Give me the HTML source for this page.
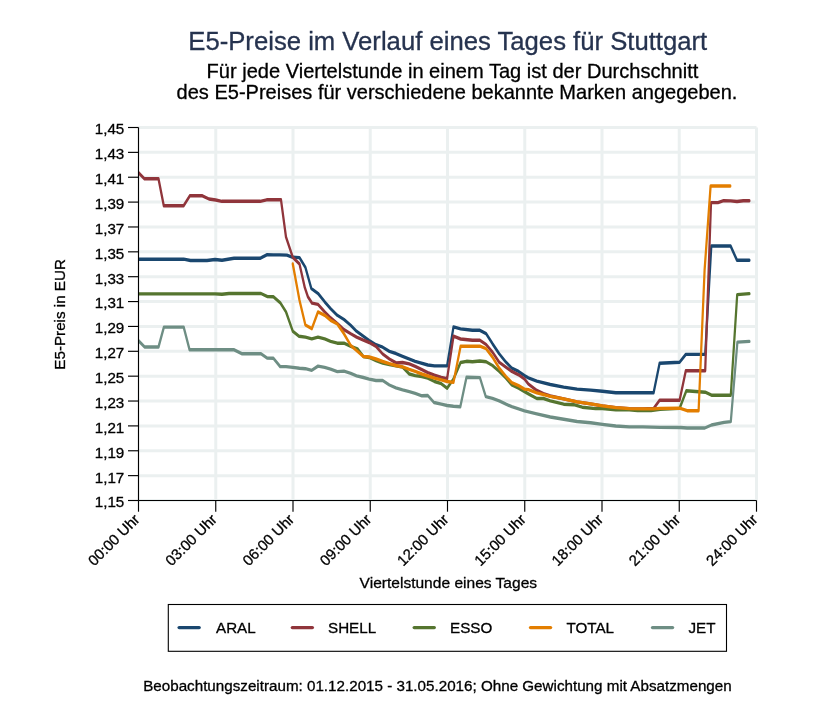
<!DOCTYPE html>
<html lang="de"><head><meta charset="utf-8"><title>E5-Preise im Verlauf eines Tages für Stuttgart</title>
<style>html,body{margin:0;padding:0;background:#fff}svg{display:block;will-change:transform}text{font-family:"Liberation Sans",Arial,Helvetica,sans-serif;fill:#000;stroke:#000;stroke-width:.3px}.s{fill:none;stroke-linejoin:round;stroke-linecap:round}</style></head><body>
<svg width="840" height="714" viewBox="0 0 840 714">
<rect width="840" height="714" fill="#ffffff"/>
<g stroke="#ebf0f0" stroke-width="3"><line x1="138.5" y1="127.50" x2="756.5" y2="127.50"/><line x1="138.5" y1="152.37" x2="756.5" y2="152.37"/><line x1="138.5" y1="177.23" x2="756.5" y2="177.23"/><line x1="138.5" y1="202.10" x2="756.5" y2="202.10"/><line x1="138.5" y1="226.97" x2="756.5" y2="226.97"/><line x1="138.5" y1="251.83" x2="756.5" y2="251.83"/><line x1="138.5" y1="276.70" x2="756.5" y2="276.70"/><line x1="138.5" y1="301.57" x2="756.5" y2="301.57"/><line x1="138.5" y1="326.43" x2="756.5" y2="326.43"/><line x1="138.5" y1="351.30" x2="756.5" y2="351.30"/><line x1="138.5" y1="376.17" x2="756.5" y2="376.17"/><line x1="138.5" y1="401.03" x2="756.5" y2="401.03"/><line x1="138.5" y1="425.90" x2="756.5" y2="425.90"/><line x1="138.5" y1="450.77" x2="756.5" y2="450.77"/><line x1="138.5" y1="475.63" x2="756.5" y2="475.63"/><line x1="138.5" y1="500.50" x2="756.5" y2="500.50"/><line x1="215.75" y1="127.5" x2="215.75" y2="500.5"/><line x1="293.00" y1="127.5" x2="293.00" y2="500.5"/><line x1="370.25" y1="127.5" x2="370.25" y2="500.5"/><line x1="447.50" y1="127.5" x2="447.50" y2="500.5"/><line x1="524.75" y1="127.5" x2="524.75" y2="500.5"/><line x1="602.00" y1="127.5" x2="602.00" y2="500.5"/><line x1="679.25" y1="127.5" x2="679.25" y2="500.5"/><line x1="756.50" y1="127.5" x2="756.50" y2="500.5"/></g>
<defs><clipPath id="pc"><rect x="138.0" y="100" width="640" height="420"/></clipPath></defs><g clip-path="url(#pc)">
<polyline class="s" transform="scale(1,1.5)" stroke="#1a476f" stroke-width="2.25" points="138.5,172.80 183.7,172.80 190.5,173.67 207.0,173.67 215.0,173.00 222.0,173.47 234.0,172.20 260.0,172.20 266.7,169.87 273.4,169.93 279.8,169.93 286.9,170.07 292.8,171.53 299.5,171.73 305.4,178.27 311.3,192.27 318.0,195.60 324.7,201.20 330.6,205.73 337.3,210.20 344.0,213.00 350.8,216.93 356.6,220.87 363.4,224.20 369.2,227.00 376.0,229.80 382.7,231.47 389.4,234.27 396.0,235.67 402.6,237.53 415.2,240.87 427.8,243.33 434.5,243.93 447.1,243.93 453.5,217.93 460.6,219.27 472.4,220.20 479.9,220.20 486.1,222.40 492.5,229.13 499.2,235.87 506.0,241.47 511.8,245.40 518.6,247.60 524.5,250.40 528.4,251.87 536.8,254.13 550.3,256.33 563.7,258.07 577.1,259.40 590.6,260.07 602.4,260.87 615.8,261.87 653.6,261.87 659.6,242.20 679.6,241.53 685.8,236.27 705.2,236.27 711.3,164.00 730.6,164.00 737.0,173.53 749.4,173.53"/>
<polyline class="s" transform="scale(1,1.5)" stroke="#90353b" stroke-width="2.25" points="138.5,115.07 144.5,119.20 158.5,119.20 163.8,137.13 183.7,137.13 189.8,130.53 202.4,130.53 209.0,132.67 215.7,133.33 221.8,134.20 260.2,134.20 266.7,133.20 281.0,133.20 286.0,158.07 292.8,171.53 299.5,176.00 304.8,191.73 307.9,197.87 312.1,202.13 318.0,202.93 324.7,207.93 330.6,211.87 337.3,215.60 344.0,219.73 350.8,222.53 356.6,224.73 363.4,226.80 369.2,228.33 376.0,230.93 382.7,236.00 389.4,239.33 396.1,241.93 402.6,241.67 409.3,242.60 415.2,244.27 421.9,246.47 427.8,248.40 434.5,250.07 441.3,251.53 447.1,252.47 453.5,224.07 460.6,226.00 472.4,226.87 479.9,226.87 486.1,229.67 492.5,234.73 499.2,241.47 506.0,244.80 511.8,247.60 518.6,249.87 524.5,252.67 528.4,256.00 536.8,260.27 543.5,262.40 550.3,264.00 563.7,265.87 577.1,267.87 590.6,269.27 602.4,270.60 615.8,271.73 629.2,272.40 642.7,272.60 653.6,272.27 659.6,266.87 679.6,266.87 685.8,247.13 705.2,247.13 711.0,135.07 718.0,135.07 723.6,133.73 730.7,133.93 737.0,134.33 743.3,133.80 749.4,133.87"/>
<polyline class="s" transform="scale(1,1.5)" stroke="#55752f" stroke-width="2.25" points="138.5,195.93 215.0,195.93 222.0,196.20 229.0,195.67 261.0,195.67 267.5,197.73 273.4,197.87 280.2,201.80 286.0,207.93 292.8,220.87 299.0,224.20 305.4,224.73 311.8,225.87 318.0,224.73 324.7,225.87 330.6,227.53 337.3,228.80 344.0,228.80 350.8,230.93 357.5,232.60 363.4,237.67 369.2,238.33 376.0,240.47 382.7,242.13 389.4,243.00 395.9,243.93 402.6,244.80 409.3,249.33 415.2,250.40 421.9,251.00 427.8,252.13 434.5,254.33 441.3,255.80 447.1,258.80 453.5,252.67 460.6,241.67 466.5,240.87 472.4,241.13 479.9,240.67 486.1,241.20 492.5,243.67 499.2,247.60 506.0,252.13 511.8,256.60 518.6,258.80 524.5,261.07 528.4,262.53 536.8,265.67 543.5,265.67 550.3,267.20 563.7,269.47 573.8,269.80 582.2,271.47 595.6,272.40 602.4,272.40 615.8,273.13 629.2,273.13 637.6,273.73 651.1,273.73 660.0,272.80 679.6,272.27 686.3,260.53 705.2,261.47 711.5,263.47 730.8,263.47 737.2,196.40 749.4,195.73"/>
<polyline class="s" transform="scale(1,1.5)" stroke="#e37e00" stroke-width="2.25" points="292.8,176.00 299.5,200.13 305.4,216.67 311.8,219.13 318.0,207.93 324.7,210.20 330.6,213.53 337.3,216.00 344.0,222.53 350.8,230.33 356.6,233.73 363.4,237.67 369.2,238.00 376.0,239.33 382.7,241.00 389.4,242.47 395.9,243.67 402.6,244.60 409.3,246.27 415.2,247.60 421.9,249.33 427.8,250.67 434.5,252.13 441.3,253.20 447.1,254.33 453.5,254.93 460.6,230.80 479.9,230.80 486.1,232.47 492.5,238.07 499.2,245.40 506.0,251.00 511.8,255.13 518.6,257.13 524.5,259.40 528.4,259.73 536.8,261.93 550.3,264.20 563.7,265.87 577.1,267.87 590.6,269.27 602.4,270.60 615.8,271.73 629.2,272.40 642.7,272.60 653.6,272.60 660.0,272.27 679.6,272.13 687.1,273.80 698.6,273.80 704.6,180.00 710.6,124.00 730.3,124.00"/>
<polyline class="s" transform="scale(1,1.5)" stroke="#6e8e84" stroke-width="2.25" points="138.5,227.07 144.5,231.33 158.5,231.33 163.9,218.07 183.7,218.07 189.6,233.20 234.2,233.20 241.7,235.80 261.0,235.80 267.0,238.67 273.4,238.80 280.2,244.40 286.0,244.40 292.8,244.93 299.5,245.47 305.4,245.80 311.8,246.87 318.0,244.07 324.7,244.93 330.6,246.07 337.3,247.73 344.0,247.40 350.8,248.87 356.6,250.53 363.4,251.67 369.2,252.80 376.0,253.67 382.7,253.67 389.4,256.67 395.9,258.60 402.6,259.93 409.3,261.07 415.2,262.20 421.9,263.87 427.8,263.67 434.0,268.33 441.3,269.47 447.1,270.33 453.5,270.80 460.3,271.13 466.5,251.53 479.9,251.73 485.8,264.40 492.5,265.53 499.2,267.20 506.0,269.47 511.8,271.13 518.6,272.60 524.5,273.93 536.8,275.93 550.3,278.00 563.7,279.53 577.1,281.00 590.6,281.80 602.4,282.93 615.8,284.00 629.2,284.60 642.7,284.60 660.0,284.93 680.4,285.00 687.1,285.33 704.8,285.33 711.5,283.33 724.1,281.60 730.8,281.07 737.4,228.07 749.4,227.60"/>
</g>
<g stroke="#000" stroke-width="1.15"><line x1="138.5" y1="127.5" x2="138.5" y2="500.5"/><line x1="138.5" y1="500.5" x2="756.5" y2="500.5"/><line x1="128.0" y1="127.50" x2="138.5" y2="127.50"/><line x1="128.0" y1="152.37" x2="138.5" y2="152.37"/><line x1="128.0" y1="177.23" x2="138.5" y2="177.23"/><line x1="128.0" y1="202.10" x2="138.5" y2="202.10"/><line x1="128.0" y1="226.97" x2="138.5" y2="226.97"/><line x1="128.0" y1="251.83" x2="138.5" y2="251.83"/><line x1="128.0" y1="276.70" x2="138.5" y2="276.70"/><line x1="128.0" y1="301.57" x2="138.5" y2="301.57"/><line x1="128.0" y1="326.43" x2="138.5" y2="326.43"/><line x1="128.0" y1="351.30" x2="138.5" y2="351.30"/><line x1="128.0" y1="376.17" x2="138.5" y2="376.17"/><line x1="128.0" y1="401.03" x2="138.5" y2="401.03"/><line x1="128.0" y1="425.90" x2="138.5" y2="425.90"/><line x1="128.0" y1="450.77" x2="138.5" y2="450.77"/><line x1="128.0" y1="475.63" x2="138.5" y2="475.63"/><line x1="128.0" y1="500.50" x2="138.5" y2="500.50"/><line x1="138.50" y1="500.5" x2="138.50" y2="511.7"/><line x1="215.75" y1="500.5" x2="215.75" y2="511.7"/><line x1="293.00" y1="500.5" x2="293.00" y2="511.7"/><line x1="370.25" y1="500.5" x2="370.25" y2="511.7"/><line x1="447.50" y1="500.5" x2="447.50" y2="511.7"/><line x1="524.75" y1="500.5" x2="524.75" y2="511.7"/><line x1="602.00" y1="500.5" x2="602.00" y2="511.7"/><line x1="679.25" y1="500.5" x2="679.25" y2="511.7"/><line x1="756.50" y1="500.5" x2="756.50" y2="511.7"/></g>
<g font-size="15.2"><text x="124.3" y="134.40" text-anchor="end">1,45</text><text x="124.3" y="159.27" text-anchor="end">1,43</text><text x="124.3" y="184.13" text-anchor="end">1,41</text><text x="124.3" y="209.00" text-anchor="end">1,39</text><text x="124.3" y="233.87" text-anchor="end">1,37</text><text x="124.3" y="258.73" text-anchor="end">1,35</text><text x="124.3" y="283.60" text-anchor="end">1,33</text><text x="124.3" y="308.47" text-anchor="end">1,31</text><text x="124.3" y="333.33" text-anchor="end">1,29</text><text x="124.3" y="358.20" text-anchor="end">1,27</text><text x="124.3" y="383.07" text-anchor="end">1,25</text><text x="124.3" y="407.93" text-anchor="end">1,23</text><text x="124.3" y="432.80" text-anchor="end">1,21</text><text x="124.3" y="457.67" text-anchor="end">1,19</text><text x="124.3" y="482.53" text-anchor="end">1,17</text><text x="124.3" y="507.40" text-anchor="end">1,15</text></g>
<g font-size="14.9"><text transform="translate(140.50,520.4) rotate(-45)" text-anchor="end">00:00 Uhr</text><text transform="translate(217.75,520.4) rotate(-45)" text-anchor="end">03:00 Uhr</text><text transform="translate(295.00,520.4) rotate(-45)" text-anchor="end">06:00 Uhr</text><text transform="translate(372.25,520.4) rotate(-45)" text-anchor="end">09:00 Uhr</text><text transform="translate(449.50,520.4) rotate(-45)" text-anchor="end">12:00 Uhr</text><text transform="translate(526.75,520.4) rotate(-45)" text-anchor="end">15:00 Uhr</text><text transform="translate(604.00,520.4) rotate(-45)" text-anchor="end">18:00 Uhr</text><text transform="translate(681.25,520.4) rotate(-45)" text-anchor="end">21:00 Uhr</text><text transform="translate(758.50,520.4) rotate(-45)" text-anchor="end">24:00 Uhr</text></g>
<text x="188.3" y="49.5" font-size="25.68" style="fill:#26334f;stroke:#26334f">E5-Preise im Verlauf eines Tages für Stuttgart</text>
<text x="206.6" y="77.9" font-size="20.06">Für jede Viertelstunde in einem Tag ist der Durchschnitt</text>
<text x="176.6" y="98.9" font-size="20.02">des E5-Preises für verschiedene bekannte Marken angegeben.</text>
<text transform="translate(65.0,314.4) rotate(-90)" text-anchor="middle" font-size="15.2">E5-Preis in EUR</text>
<text x="359.6" y="588.0" font-size="15.55">Viertelstunde eines Tages</text>
<rect x="168.3" y="604.5" width="558.2" height="46.8" fill="#fff" stroke="#000" stroke-width="1.1"/>
<line x1="179.1" y1="627.6" x2="199.2" y2="627.6" stroke="#1a476f" stroke-width="3.3" stroke-linecap="round"/><text x="216.0" y="633.4" font-size="15.2">ARAL</text>
<line x1="292.3" y1="627.6" x2="312.40000000000003" y2="627.6" stroke="#90353b" stroke-width="3.3" stroke-linecap="round"/><text x="328.0" y="633.4" font-size="15.2">SHELL</text>
<line x1="414.2" y1="627.6" x2="434.3" y2="627.6" stroke="#55752f" stroke-width="3.3" stroke-linecap="round"/><text x="450.0" y="633.4" font-size="15.2">ESSO</text>
<line x1="530.5" y1="627.6" x2="550.6" y2="627.6" stroke="#e37e00" stroke-width="3.3" stroke-linecap="round"/><text x="566.5" y="633.4" font-size="15.2">TOTAL</text>
<line x1="652.5" y1="627.6" x2="672.6" y2="627.6" stroke="#6e8e84" stroke-width="3.3" stroke-linecap="round"/><text x="688.5" y="633.4" font-size="15.2">JET</text>
<text x="143.2" y="690.8" font-size="15.2">Beobachtungszeitraum: 01.12.2015 - 31.05.2016; Ohne Gewichtung mit Absatzmengen</text>
</svg></body></html>
